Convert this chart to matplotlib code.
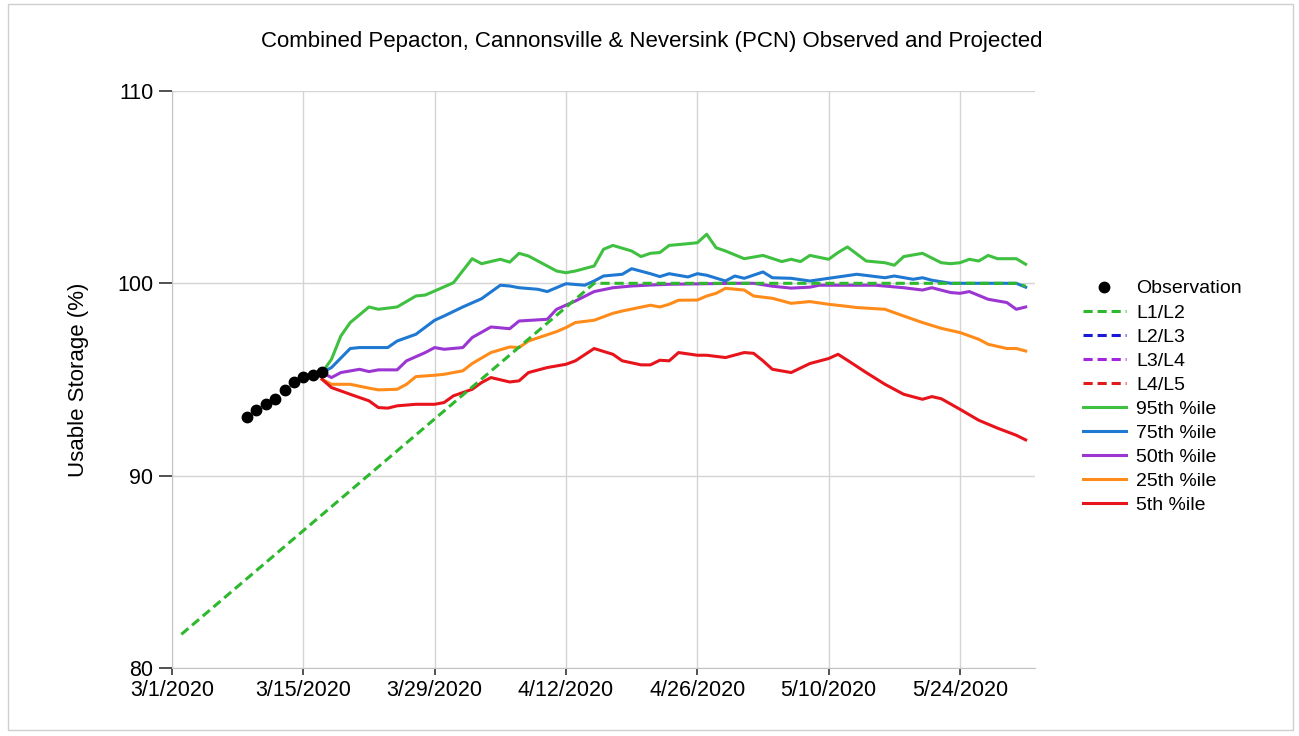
import pandas as pd
import matplotlib.pyplot as plt
import matplotlib.dates as mdates
from matplotlib.patches import Rectangle
from matplotlib.ticker import FuncFormatter

plt.rcParams['font.family'] = ['Liberation Sans', 'DejaVu Sans']

# Datos (dias contados desde 3/1/2020, valores en % de almacenamiento util)
inicio = pd.Timestamp("2020-03-01")

obs_dias = [8, 9, 10, 11, 12, 13, 14, 15, 16]
obs_vals = [93.06, 93.41, 93.72, 94.0, 94.47, 94.85, 95.11, 95.23, 95.39]

l1l2_dias = [1, 45, 90, 91]
l1l2_vals = [81.75, 100.0, 100.0, 99.85]

p95_dias = [16, 17, 18, 19, 21, 22, 24, 26, 27, 28, 30, 32, 33, 35, 36, 37, 38, 41, 42, 43,
            45, 46, 47, 49, 50, 51, 52, 53, 55, 56, 57, 58, 59, 61, 63, 65, 66, 67, 68, 70,
            71, 72, 74, 76, 77, 78, 80, 82, 83, 84, 85, 86, 87, 88, 90, 91]
p95_vals = [95.36, 96.05, 97.26, 97.96, 98.77, 98.65, 98.77, 99.34, 99.39, 99.6, 100.03, 101.28,
            101.02, 101.25, 101.1, 101.56, 101.42, 100.64, 100.55, 100.64, 100.9, 101.77, 101.97,
            101.68, 101.39, 101.56, 101.6, 101.97, 102.06, 102.11, 102.55, 101.85, 101.68, 101.28,
            101.45, 101.13, 101.25, 101.13, 101.45, 101.25, 101.6, 101.89, 101.16, 101.07, 100.94,
            101.39, 101.56, 101.07, 101.02, 101.07, 101.25, 101.16, 101.45, 101.28, 101.28, 100.99]

p75_dias = [16, 17, 19, 20, 23, 24, 26, 28, 29, 31, 33, 35, 36, 37, 39, 40, 42, 44, 45, 46,
            48, 49, 51, 52, 53, 55, 56, 57, 59, 60, 61, 63, 64, 66, 68, 70, 71, 73, 75, 76,
            77, 79, 80, 81, 83, 90, 91]
p75_vals = [95.36, 95.62, 96.61, 96.66, 96.66, 97.0, 97.35, 98.08, 98.3, 98.77, 99.2, 99.9,
            99.86, 99.77, 99.69, 99.57, 99.98, 99.9, 100.12, 100.38, 100.47, 100.76, 100.5,
            100.35, 100.5, 100.33, 100.5, 100.42, 100.12, 100.38, 100.26, 100.59, 100.29, 100.26,
            100.12, 100.26, 100.33, 100.47, 100.35, 100.29, 100.38, 100.21, 100.29, 100.16, 100.0,
            100.0, 99.8]

p50_dias = [16, 17, 18, 20, 21, 22, 24, 25, 27, 28, 29, 31, 32, 34, 36, 37, 40, 41, 43, 45,
            47, 49, 51, 53, 60, 62, 64, 66, 68, 69, 72, 75, 78, 80, 81, 83, 84, 85, 87, 89, 90, 91]
p50_vals = [95.36, 95.1, 95.36, 95.53, 95.41, 95.5, 95.5, 95.97, 96.4, 96.66, 96.57, 96.66,
            97.18, 97.73, 97.64, 98.04, 98.13, 98.65, 99.08, 99.57, 99.77, 99.86, 99.91, 99.95,
            100.0, 100.0, 99.85, 99.75, 99.8, 99.9, 99.9, 99.9, 99.77, 99.65, 99.77, 99.52, 99.48,
            99.57, 99.17, 99.0, 98.65, 98.77]

p25_dias = [16, 17, 19, 21, 22, 24, 25, 26, 28, 29, 31, 32, 34, 36, 37, 38, 41, 42, 43, 45,
            47, 48, 51, 52, 53, 54, 56, 57, 58, 59, 61, 62, 64, 66, 68, 70, 72, 73, 76, 78,
            80, 82, 84, 86, 87, 89, 90, 91]
p25_vals = [95.01, 94.75, 94.75, 94.55, 94.46, 94.49, 94.75, 95.15, 95.22, 95.27, 95.45, 95.83,
            96.4, 96.69, 96.66, 97.0, 97.49, 97.7, 97.96, 98.08, 98.44, 98.56, 98.86, 98.77, 98.91,
            99.12, 99.13, 99.34, 99.48, 99.74, 99.65, 99.34, 99.22, 98.96, 99.05, 98.91, 98.8,
            98.74, 98.65, 98.3, 97.96, 97.66, 97.44, 97.09, 96.83, 96.61, 96.61, 96.48]

p5_dias = [16, 17, 19, 21, 22, 23, 24, 26, 28, 29, 30, 32, 33, 34, 36, 37, 38, 40, 42, 43,
           45, 47, 48, 50, 51, 52, 53, 54, 56, 57, 59, 61, 62, 63, 64, 66, 68, 70, 71, 72,
           74, 76, 78, 80, 81, 82, 84, 86, 88, 90, 91]
p5_vals = [95.01, 94.58, 94.23, 93.89, 93.54, 93.51, 93.63, 93.71, 93.71, 93.8, 94.15, 94.49,
           94.84, 95.1, 94.87, 94.93, 95.36, 95.62, 95.79, 95.97, 96.61, 96.31, 95.97, 95.76,
           95.76, 96.0, 95.97, 96.4, 96.26, 96.26, 96.14, 96.4, 96.36, 95.97, 95.53, 95.36, 95.83,
           96.09, 96.31, 96.0, 95.36, 94.75, 94.23, 93.97, 94.11, 94.0, 93.45, 92.88, 92.47,
           92.1, 91.86]


def a_fechas(dias):
    return [inicio + pd.Timedelta(days=d) for d in dias]


def fecha_corta(v, pos):
    d = mdates.num2date(v)
    return f"{d.month}/{d.day}/{d.year}"


fig = plt.figure(figsize=(12.99, 7.36), dpi=100)
ax = fig.add_axes([0.1324, 0.0924, 0.6644, 0.784])

# marco gris de la imagen
fig.patches.append(Rectangle((0.006, 0.008), 0.989, 0.986, transform=fig.transFigure,
                             fill=False, edgecolor='#cfcfcf', linewidth=1))

guion = (0, (3, 1.6))
ax.plot(a_fechas(obs_dias), obs_vals, 'o', color='black', markersize=7.5, label='Observation',
        zorder=5)
ax.plot(a_fechas(l1l2_dias), l1l2_vals, linestyle=guion, color='#2db82d', lw=2.2, label='L1/L2',
        zorder=3)
ax.plot([], [], linestyle=guion, color='#1a1ad6', lw=2.2, label='L2/L3')
ax.plot([], [], linestyle=guion, color='#a425e0', lw=2.2, label='L3/L4')
ax.plot([], [], linestyle=guion, color='#e01a1a', lw=2.2, label='L4/L5')
ax.plot(a_fechas(p95_dias), p95_vals, color='#40c040', lw=2.2, label='95th %ile')
ax.plot(a_fechas(p75_dias), p75_vals, color='#1f78d1', lw=2.2, label='75th %ile')
ax.plot(a_fechas(p50_dias), p50_vals, color='#9b36d3', lw=2.2, label='50th %ile')
ax.plot(a_fechas(p25_dias), p25_vals, color='#ff8c1a', lw=2.2, label='25th %ile')
ax.plot(a_fechas(p5_dias), p5_vals, color='#e8141c', lw=2.2, label='5th %ile')

ax.set_xlim(inicio, inicio + pd.Timedelta(days=92))
ax.set_ylim(80, 110)
ax.set_yticks([80, 90, 100, 110])
ax.set_xticks(a_fechas([0, 14, 28, 42, 56, 70, 84]))
ax.xaxis.set_major_formatter(FuncFormatter(fecha_corta))

ax.grid(True, color='#d4d4d4', linewidth=1)
ax.set_axisbelow(True)
for lado in ['top', 'right']:
    ax.spines[lado].set_visible(False)
for lado in ['left', 'bottom']:
    ax.spines[lado].set_color('#c4c4c4')
ax.tick_params(axis='y', length=9.5, width=1.2, color='#333333', labelsize=15.5, pad=4)
ax.tick_params(axis='x', length=5, width=1.2, color='#333333', labelsize=15.5, pad=4)

ax.set_ylabel('Usable Storage (%)', fontsize=16, labelpad=20)
fig.text(0.502, 0.944, 'Combined Pepacton, Cannonsville & Neversink (PCN) Observed and Projected',
         ha='center', va='center', fontsize=16)

ax.legend(loc='center left', bbox_to_anchor=(1.035, 0.47), frameon=False, fontsize=14,
          handlelength=2.2, handletextpad=0.55, labelspacing=0.33)

plt.savefig('out.png', dpi=100)
